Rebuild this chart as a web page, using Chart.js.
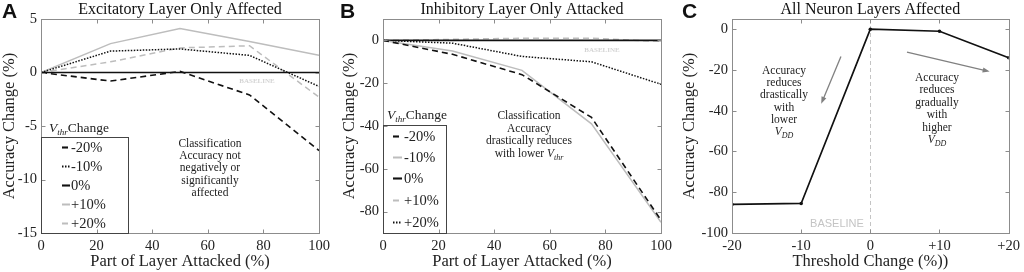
<!DOCTYPE html>
<html><head><meta charset="utf-8">
<script src="https://cdn.jsdelivr.net/npm/chart.js@4/dist/chart.umd.min.js"></script>
<style>
html,body{margin:0;padding:0;background:#fff;}
#wrap{position:relative;width:1024px;height:272px;overflow:hidden;}
.p{position:absolute;top:0;height:272px;}
</style></head><body>
<div id="wrap">
<div class="p" style="left:0;width:340px"><canvas id="cA"></canvas></div>
<div class="p" style="left:340px;width:340px"><canvas id="cB"></canvas></div>
<div class="p" style="left:680px;width:344px"><canvas id="cC"></canvas></div>
</div>
<script>
// ---------- DATA ----------
const attackPct = [0, 25, 50, 75, 100];
const vthrLabels = ['-20%', '-10%', '0%', '+10%', '+20%'];

// Panel A: excitatory layer only
const excM20 = [0, -0.8, 0.1, -2.1, -7.3];
const excM10 = [0, 2.0, 2.2, 1.6, -1.3];
const exc0   = [0, 0, 0, 0, 0];
const excP10 = [0, 2.7, 4.1, 2.9, 1.6];
const excP20 = [0, 1.0, 2.3, 2.5, -2.3];

// Panel B: inhibitory layer only
const inhM20 = [0, -6.5, -16, -36, -84];
const inhM10 = [0, -5, -14, -39, -85];
const inh0   = [0, 0, 0, 0, 0];
const inhP10 = [0, 0.5, 1, 1, -0.5];
const inhP20 = [0, -1.3, -7.5, -10, -20.5];

// Panel C: all neuron layers
const thrChange = [-20, -10, 0, 10, 20];
const allAcc = [-86, -85.5, 0, -1, -14];

// tick values / labels
const xTicksAttack = [0, 20, 40, 60, 80, 100];
const yTicksA = [-15, -10, -5, 0, 5];
const yTicksB = [-80, -60, -40, -20, 0];
const yTicksC = [-100, -80, -60, -40, -20, 0];
const thrTickValues = [-20, -10, 0, 10, 20];
const thrTickLabels = ['-20', '-10', '0', '+10', '+20'];

// ---------- STYLE ----------
const SERIF = '"Liberation Serif", "Times New Roman", serif';
const SANS = '"Liberation Sans", Arial, sans-serif';
const BLACK = '#111';
const GRAY = '#bdbdbd';
Chart.defaults.font.family = SERIF;
Chart.defaults.color = '#222';

const pts = (xs, ys) => xs.map((x, i) => ({x, y: ys[i]}));
const sty = {
  dashK: {borderColor: BLACK, borderDash: [6, 4], borderWidth: 1.6},
  dotK:  {borderColor: BLACK, borderDash: [1.5, 1.5], borderWidth: 1.5},
  solK:  {borderColor: BLACK, borderDash: [], borderWidth: 1.6},
  solG:  {borderColor: GRAY, borderDash: [], borderWidth: 1.5},
  dashG: {borderColor: GRAY, borderDash: [6, 4], borderWidth: 1.5},
};
function ds(label, xs, ys, s) {
  return Object.assign({label, data: pts(xs, ys), pointRadius: 0, fill: false, tension: 0}, s);
}

// ---------- text helper ----------
function drawRich(ctx, segs, cx, y, size, align) {
  const fontOf = (s) => (s.it ? 'italic ' : '') + (s.sub ? Math.round(size * 0.7) : size) + 'px ' + SERIF;
  let w = 0;
  segs.forEach(s => { ctx.font = fontOf(s); w += ctx.measureText(s.t).width; });
  let x = align === 'left' ? cx : cx - w / 2;
  ctx.textAlign = 'left';
  ctx.textBaseline = 'alphabetic';
  segs.forEach(s => {
    ctx.font = fontOf(s);
    ctx.fillText(s.t, x, y + (s.sub ? size * 0.25 : 0));
    x += ctx.measureText(s.t).width;
  });
}
const T = (t) => [{t}];

// ---------- plugin ----------
const deco = {
  id: 'deco',
  beforeDatasetsDraw(chart, args, o) {
    const ctx = chart.ctx, a = chart.chartArea;
    if (o.vline !== undefined) {
      const p = Math.round(chart.scales.x.getPixelForValue(o.vline)) + 0.5;
      ctx.save();
      ctx.strokeStyle = '#c4c4c4'; ctx.lineWidth = 1; ctx.setLineDash([4, 3]);
      ctx.beginPath(); ctx.moveTo(p, a.top); ctx.lineTo(p, a.bottom); ctx.stroke();
      ctx.restore();
    }
  },
  afterDraw(chart, args, o) {
    const ctx = chart.ctx, a = chart.chartArea;
    const xs = chart.scales.x, ys = chart.scales.y;
    ctx.save();
    ctx.strokeStyle = '#8c8c8c'; ctx.lineWidth = 1; ctx.setLineDash([]);
    const L = Math.round(a.left) + 0.5, R = Math.round(a.right) + 0.5, Tp = Math.round(a.top) + 0.5, B = Math.round(a.bottom) + 0.5;
    ctx.strokeRect(L, Tp, R - L, B - Tp);
    const TL = 4;
    ctx.beginPath();
    xs.ticks.forEach(t => {
      const p = Math.round(xs.getPixelForValue(t.value)) + 0.5;
      ctx.moveTo(p, B); ctx.lineTo(p, B - TL);
      ctx.moveTo(p, Tp); ctx.lineTo(p, Tp + TL);
    });
    ys.ticks.forEach(t => {
      const p = Math.round(ys.getPixelForValue(t.value)) + 0.5;
      ctx.moveTo(L, p); ctx.lineTo(L + TL, p);
      ctx.moveTo(R, p); ctx.lineTo(R - TL, p);
    });
    ctx.stroke();
    ctx.fillStyle = '#111';
    ctx.font = '16px ' + SERIF;
    ctx.textAlign = 'center'; ctx.textBaseline = 'alphabetic';
    ctx.fillText(o.title, (a.left + a.right) / 2, 13.5);
    ctx.font = 'bold 21px ' + SANS;
    ctx.textAlign = 'left';
    ctx.fillText(o.letter, o.letterX, 18);
    if (o.baseline) {
      const b = o.baseline;
      ctx.fillStyle = b.color; ctx.font = b.font;
      ctx.textAlign = 'center'; ctx.textBaseline = 'middle';
      ctx.fillText('BASELINE', b.x, b.y);
    }
    ctx.fillStyle = '#222';
    (o.notes || []).forEach(n => {
      n.lines.forEach((ln, i) => drawRich(ctx, ln, n.x, n.y + i * n.dy, n.size, 'center'));
    });
    (o.arrows || []).forEach(ar => {
      const x1 = xs.getPixelForValue(ar[0]), y1 = ys.getPixelForValue(ar[1]);
      const x2 = xs.getPixelForValue(ar[2]), y2 = ys.getPixelForValue(ar[3]);
      const ang = Math.atan2(y2 - y1, x2 - x1), h = 7, w = 2.6;
      ctx.strokeStyle = '#808080'; ctx.fillStyle = '#808080'; ctx.lineWidth = 1.3;
      ctx.beginPath(); ctx.moveTo(x1, y1); ctx.lineTo(x2 - h * 0.6 * Math.cos(ang), y2 - h * 0.6 * Math.sin(ang)); ctx.stroke();
      ctx.beginPath();
      ctx.moveTo(x2, y2);
      ctx.lineTo(x2 - h * Math.cos(ang) + w * Math.sin(ang), y2 - h * Math.sin(ang) - w * Math.cos(ang));
      ctx.lineTo(x2 - h * Math.cos(ang) - w * Math.sin(ang), y2 - h * Math.sin(ang) + w * Math.cos(ang));
      ctx.closePath(); ctx.fill();
    });
    if (o.legend) {
      const lg = o.legend;
      ctx.fillStyle = '#222';
      drawRich(ctx, [{t: 'V', it: true}, {t: 'thr', it: true, sub: true}, {t: 'Change'}], lg.titleX, lg.titleY, 13.5, 'center');
      ctx.strokeStyle = '#444'; ctx.lineWidth = 1; ctx.setLineDash([]);
      const bx = Math.round(a.left) + 0.5, by = Math.round(lg.top) + 0.5;
      ctx.strokeRect(bx, by, Math.round(lg.width), Math.round(a.bottom) + 0.5 - by);
      chart.data.datasets.forEach((d, i) => {
        const yy = Math.round(lg.rows[i]) + 0.5;
        ctx.strokeStyle = d.borderColor; ctx.lineWidth = d.borderWidth + 0.5;
        ctx.setLineDash(d.borderDash && d.borderDash.length ? (d.borderDash[0] > 3 ? [6, 3] : [1.5, 1.5]) : []);
        ctx.beginPath(); ctx.moveTo(lg.sx0, yy); ctx.lineTo(lg.sx1, yy); ctx.stroke();
        ctx.setLineDash([]);
        ctx.fillStyle = '#222'; ctx.font = '14.5px ' + SERIF;
        ctx.textAlign = 'left'; ctx.textBaseline = 'middle';
        ctx.fillText(d.label, lg.tx, yy + 0.5);
      });
    }
    ctx.restore();
  }
};
Chart.register(deco);

function axes(o) {
  return {
    x: {
      type: 'linear', min: o.xmin, max: o.xmax,
      afterBuildTicks: s => { s.ticks = o.xticks.map(v => ({value: v})); },
      ticks: Object.assign({padding: 4, font: {size: 14.5}, color: '#222', maxRotation: 0}, o.xcb ? {callback: o.xcb} : {}),
      grid: {display: false, drawTicks: false}, border: {display: false},
      title: {display: true, text: o.xtitle, font: {size: 16.5}, color: '#222', padding: {top: 0, bottom: 0}},
      afterFit: s => { s.height = 39; }
    },
    y: {
      type: 'linear', min: o.ymin, max: o.ymax,
      afterBuildTicks: s => { s.ticks = o.yticks.map(v => ({value: v})); },
      ticks: {padding: 4, font: {size: 14.5}, color: '#222'},
      grid: {display: false, drawTicks: false}, border: {display: false},
      title: {display: true, text: 'Accuracy Change (%)', font: {size: 16.5}, color: '#222', padding: {top: 0, bottom: 0}},
      afterFit: s => { s.width = o.yw; }
    }
  };
}
const baseOpts = {responsive: true, maintainAspectRatio: false, animation: false,
  plugins: {legend: {display: false}, tooltip: {enabled: false}, title: {display: false}}};

// ---------- Panel A ----------
new Chart(document.getElementById('cA'), {
  type: 'line',
  data: {datasets: [
    ds(vthrLabels[0], attackPct, excM20, sty.dashK),
    ds(vthrLabels[1], attackPct, excM10, sty.dotK),
    ds(vthrLabels[2], attackPct, exc0, sty.solK),
    ds(vthrLabels[3], attackPct, excP10, sty.solG),
    ds(vthrLabels[4], attackPct, excP20, sty.dashG),
  ]},
  options: Object.assign({}, baseOpts, {
    layout: {padding: {top: 19, right: 21, left: 0, bottom: 0}},
    scales: axes({xmin: 0, xmax: 100, xticks: xTicksAttack, ymin: -15, ymax: 5, yticks: yTicksA, yw: 41, xtitle: 'Part of Layer Attacked (%)'}),
    plugins: Object.assign({}, baseOpts.plugins, {deco: {
      title: 'Excitatory Layer Only Affected', letter: 'A', letterX: 2,
      baseline: {x: 257, y: 81, font: 'bold 7px ' + SERIF, color: '#d4d4d4'},
      notes: [{x: 210, y: 147, dy: 12.2, size: 11.5, lines: [T('Classification'), T('Accuracy not'), T('negatively or'), T('significantly'), T('affected')]}],
      legend: {titleX: 79, titleY: 132, top: 137, width: 87, rows: [147, 166, 185, 204, 223], sx0: 62, sx1: 70, tx: 71}
    }})
  })
});

// ---------- Panel B ----------
new Chart(document.getElementById('cB'), {
  type: 'line',
  data: {datasets: [
    ds(vthrLabels[0], attackPct, inhM20, sty.dashK),
    ds(vthrLabels[1], attackPct, inhM10, sty.solG),
    ds(vthrLabels[2], attackPct, inh0, sty.solK),
    ds(vthrLabels[3], attackPct, inhP10, sty.dashG),
    ds(vthrLabels[4], attackPct, inhP20, sty.dotK),
  ]},
  options: Object.assign({}, baseOpts, {
    layout: {padding: {top: 19, right: 19, left: 0, bottom: 0}},
    scales: axes({xmin: 0, xmax: 100, xticks: xTicksAttack, ymin: -90, ymax: 10, yticks: yTicksB, yw: 43, xtitle: 'Part of Layer Attacked (%)'}),
    plugins: Object.assign({}, baseOpts.plugins, {deco: {
      title: 'Inhibitory Layer Only Attacked', letter: 'B', letterX: 0,
      baseline: {x: 262, y: 50, font: 'bold 7px ' + SERIF, color: '#d4d4d4'},
      notes: [{x: 189, y: 119, dy: 12.6, size: 11.5, lines: [T('Classification'), T('Accuracy'), T('drastically reduces'),
        [{t: 'with lower '}, {t: 'V', it: true}, {t: 'thr', it: true, sub: true}]]}],
      legend: {titleX: 77, titleY: 119, top: 125, width: 63, rows: [136, 157, 178, 200, 222], sx0: 53, sx1: 62, tx: 64}
    }})
  })
});

// ---------- Panel C ----------
new Chart(document.getElementById('cC'), {
  type: 'line',
  data: {datasets: [{
    label: 'Accuracy', data: pts(thrChange, allAcc), borderColor: BLACK, borderWidth: 1.7,
    pointRadius: 1.8, pointBackgroundColor: BLACK, pointBorderWidth: 0, fill: false, tension: 0
  }]},
  options: Object.assign({}, baseOpts, {
    layout: {padding: {top: 19, right: 13, left: 0, bottom: 0}},
    scales: axes({xmin: -20, xmax: 20, xticks: thrTickValues, ymin: -100, ymax: 5, yticks: yTicksC, yw: 52, xtitle: 'Threshold Change (%))',
      xcb: v => { const i = thrTickValues.indexOf(v); return i >= 0 ? thrTickLabels[i] : ''; }}),
    plugins: Object.assign({}, baseOpts.plugins, {deco: {
      title: 'All Neuron Layers Affected', letter: 'C', letterX: 2,
      vline: 0,
      baseline: {x: 157, y: 224, font: '11px ' + SANS, color: '#c4c4c4'},
      notes: [
        {x: 104, y: 74, dy: 12.2, size: 11.5, lines: [T('Accuracy'), T('reduces'), T('drastically'), T('with'), T('lower'),
          [{t: 'V', it: true}, {t: 'DD', it: true, sub: true}]]},
        {x: 257, y: 81, dy: 12.4, size: 11.5, lines: [T('Accuracy'), T('reduces'), T('gradually'), T('with'), T('higher'),
          [{t: 'V', it: true}, {t: 'DD', it: true, sub: true}]]}
      ],
      arrows: [[-4.25, -13.4, -7.1, -36.6], [5.3, -11.3, 17.25, -20.8]]
    }})
  })
});
</script>
</body></html>
